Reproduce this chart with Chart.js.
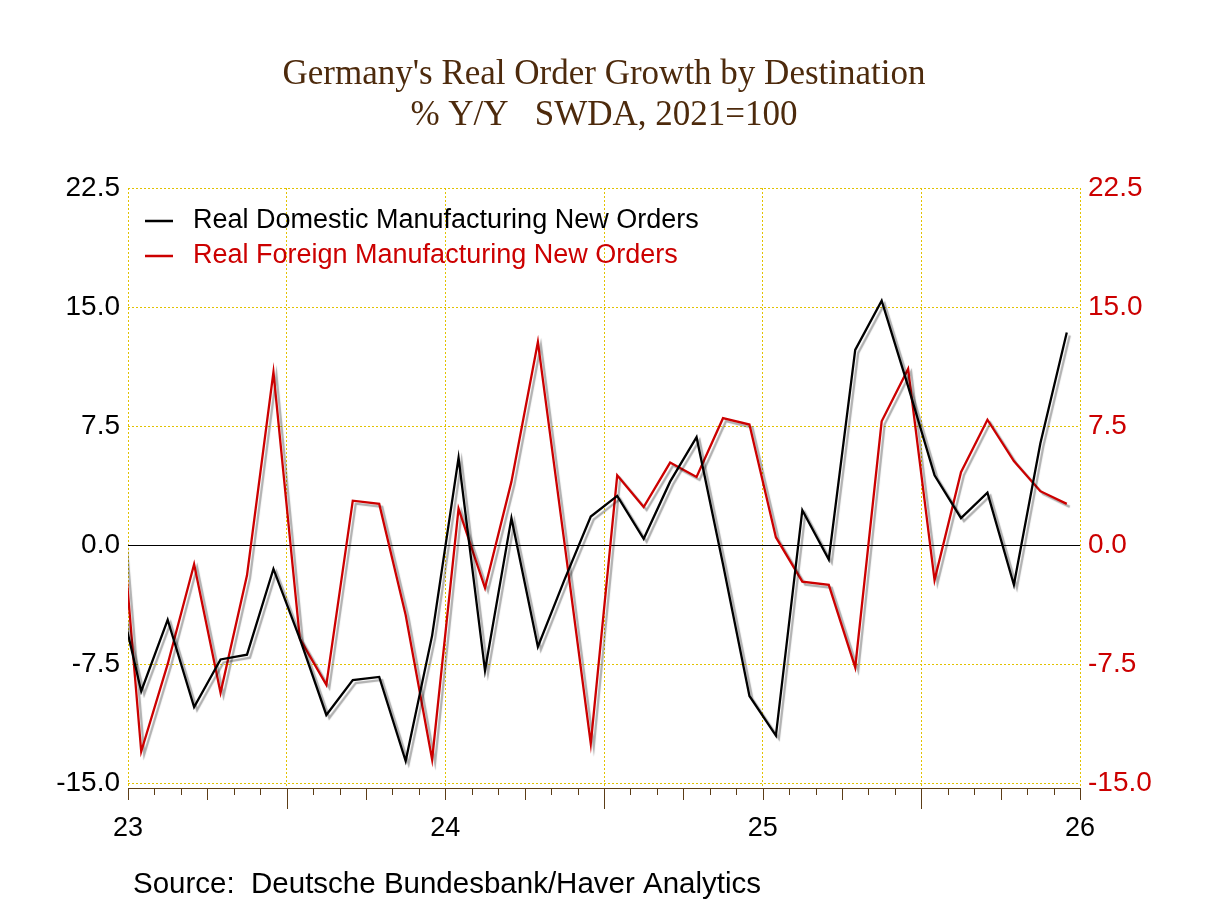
<!DOCTYPE html>
<html>
<head>
<meta charset="utf-8">
<title>Germany's Real Order Growth by Destination</title>
<script src="https://cdn.jsdelivr.net/npm/chart.js@4.4.1/dist/chart.umd.min.js"></script>
<style>
  html, body { margin: 0; padding: 0; background: #ffffff; }
  canvas { display: block; }
</style>
</head>
<body>
<canvas id="ordersChart" width="1208" height="906"></canvas>
<script>
// Monthly observations, % Y/Y (Dec 2022 only feeds the clipped first segment)
const months = [
  '2022-12',
  '2023-01', '2023-02', '2023-03', '2023-04', '2023-05', '2023-06',
  '2023-07', '2023-08', '2023-09', '2023-10', '2023-11', '2023-12',
  '2024-01', '2024-02', '2024-03', '2024-04', '2024-05', '2024-06',
  '2024-07', '2024-08', '2024-09', '2024-10', '2024-11', '2024-12',
  '2025-01', '2025-02', '2025-03', '2025-04', '2025-05', '2025-06',
  '2025-07', '2025-08', '2025-09', '2025-10', '2025-11', '2025-12'
];

const domesticOrders = [
  -2.0,
  -9.2, -4.7, -10.2, -7.2, -6.9, -1.5,
  -5.9, -10.7, -8.5, -8.3, -13.6, -5.7,
  5.5, -7.9, 1.7, -6.4, -2.2, 1.8,
  3.1, 0.4, 4.0, 6.8, -1.2, -9.5,
  -12.0, 2.2, -0.9, 12.3, 15.4, 10.0,
  4.4, 1.7, 3.3, -2.5, 6.4, 13.4
];

const foreignOrders = [
  6.9,
  -13.0, -7.5, -1.2, -9.3, -1.9, 10.9,
  -5.9, -8.8, 2.8, 2.6, -4.4, -13.5,
  2.3, -2.7, 4.0, 12.8, 0.2, -12.5,
  4.4, 2.4, 5.2, 4.3, 8.0, 7.6,
  0.5, -2.3, -2.5, -7.7, 7.8, 11.1,
  -2.2, 4.6, 7.9, 5.3, 3.4, 2.6
];

const yTickValues = [-15, -7.5, 0, 7.5, 15, 22.5];
const yearLabels = ['23', '24', '25', '26'];

const titleLines = ["Germany's Real Order Growth by Destination", '% Y/Y   SWDA, 2021=100'];
const sourceNote = 'Source:  Deutsche Bundesbank/Haver Analytics';

const SANS = "'Liberation Sans', Arial, sans-serif";
const SERIF = "'Liberation Serif', 'Times New Roman', serif";
const GRID_YELLOW = '#e2c200';
const AXIS_BROWN = '#5c3d17';

// months since Jan 2023, centred in the month
function monthPosition(label) {
  const [year, month] = label.split('-').map(Number);
  return (year - 2023) * 12 + (month - 1) + 0.5;
}

function toPoints(values) {
  return months.map((m, i) => ({ x: monthPosition(m), y: values[i] }));
}

function setYTicks(scale) {
  scale.ticks = yTickValues.map(v => ({ value: v }));
}

// gray drop shadow under each series line
const lineShadow = {
  id: 'lineShadow',
  beforeDatasetDraw(chart) {
    const ctx = chart.ctx;
    ctx.save();
    ctx.shadowColor = 'rgba(0, 0, 0, 0.32)';
    ctx.shadowOffsetX = 3;
    ctx.shadowOffsetY = 3;
    ctx.shadowBlur = 1;
  },
  afterDatasetDraw(chart) {
    chart.ctx.restore();
  }
};

// monthly tick marks under the x axis, longer at quarters and mid-year
const monthTicks = {
  id: 'monthTicks',
  afterDraw(chart) {
    const { ctx, scales: { x } } = chart;
    ctx.save();
    ctx.strokeStyle = AXIS_BROWN;
    ctx.lineWidth = 1;
    for (let m = x.min; m <= x.max; m++) {
      const px = Math.round(x.getPixelForValue(m)) + 0.5;
      const len = m % 12 === 6 ? 21 : (m % 3 === 0 ? 12 : 7);
      ctx.beginPath();
      ctx.moveTo(px, x.top);
      ctx.lineTo(px, x.top + len);
      ctx.stroke();
    }
    ctx.restore();
  }
};

// legend inside the plot (top-left) and source line under the axis
const notes = {
  id: 'notes',
  afterDraw(chart) {
    const { ctx, chartArea } = chart;
    ctx.save();
    ctx.font = '27px ' + SANS;
    ctx.textBaseline = 'middle';
    chart.data.datasets.forEach((ds, i) => {
      const y = chartArea.top + 33 + i * 35;
      ctx.strokeStyle = ds.borderColor;
      ctx.lineWidth = 2.5;
      ctx.beginPath();
      ctx.moveTo(chartArea.left + 17, y);
      ctx.lineTo(chartArea.left + 45, y);
      ctx.stroke();
      ctx.fillStyle = ds.borderColor;
      ctx.fillText(ds.label, chartArea.left + 65, y);
    });
    ctx.font = '29.5px ' + SANS;
    ctx.fillStyle = '#000000';
    ctx.fillText(sourceNote, chartArea.left + 5, 885);
    ctx.restore();
  }
};

const ctx = document.getElementById('ordersChart').getContext('2d');

new Chart(ctx, {
  type: 'line',
  data: {
    datasets: [
      {
        label: 'Real Domestic Manufacturing New Orders',
        data: toPoints(domesticOrders),
        borderColor: '#000000',
        borderWidth: 2.3,
        pointRadius: 0,
        tension: 0,
        yAxisID: 'y'
      },
      {
        label: 'Real Foreign Manufacturing New Orders',
        data: toPoints(foreignOrders),
        borderColor: '#cc0000',
        borderWidth: 2.3,
        pointRadius: 0,
        tension: 0,
        yAxisID: 'y2'
      }
    ]
  },
  options: {
    responsive: false,
    animation: false,
    devicePixelRatio: 1,
    layout: { padding: 0 },
    plugins: {
      legend: { display: false },
      tooltip: { enabled: false },
      title: {
        display: true,
        text: titleLines,
        color: '#4d2a0c',
        font: { family: SERIF, size: 35, weight: 'normal', lineHeight: 1.17 },
        padding: { top: 54.5, bottom: 51.6 }
      }
    },
    scales: {
      x: {
        type: 'linear',
        min: 0,
        max: 36,
        afterFit: s => { s.height = 118; },
        ticks: {
          stepSize: 6,
          autoSkip: false,
          maxRotation: 0,
          padding: 24,
          color: '#000000',
          font: { family: SANS, size: 27 },
          callback: v => (v % 12 === 0 ? yearLabels[v / 12] : '')
        },
        grid: { color: GRID_YELLOW, lineWidth: 1, drawTicks: false },
        border: { display: true, color: AXIS_BROWN, width: 1, dash: [2, 2] }
      },
      y: {
        position: 'left',
        min: -15.3,
        max: 22.5,
        afterBuildTicks: setYTicks,
        afterFit: s => { s.width = 128; },
        ticks: {
          padding: 8,
          color: '#000000',
          font: { family: SANS, size: 28 },
          callback: v => v.toFixed(1)
        },
        grid: {
          drawTicks: false,
          lineWidth: 1,
          color: c => (c.tick && c.tick.value === 0 ? '#000000' : GRID_YELLOW)
        },
        border: {
          display: false,
          dash: c => (c.tick && c.tick.value === 0 ? [] : [2, 2])
        }
      },
      y2: {
        position: 'right',
        min: -15.3,
        max: 22.5,
        afterBuildTicks: setYTicks,
        afterFit: s => { s.width = 128; },
        ticks: {
          padding: 8,
          color: '#cc0000',
          font: { family: SANS, size: 28 },
          callback: v => v.toFixed(1)
        },
        grid: { drawOnChartArea: false, drawTicks: false },
        border: { display: false }
      }
    }
  },
  plugins: [lineShadow, monthTicks, notes]
});
</script>
</body>
</html>
